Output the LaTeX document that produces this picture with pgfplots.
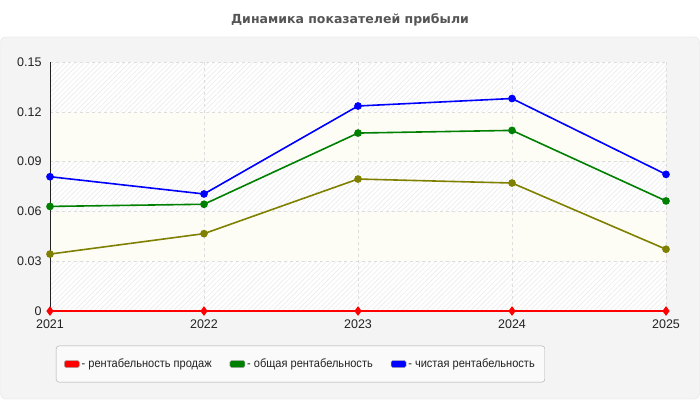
\documentclass[border=0pt]{standalone}
\usepackage{fontspec}
\setmainfont{Liberation Sans}
\newfontfamily\legendfont[FakeStretch=0.92]{Liberation Sans}
\newfontfamily\titlefont{DejaVu Sans}
\usepackage{pgfplots}
\pgfplotsset{compat=1.18}
\usetikzlibrary{patterns.meta}

\definecolor{panel}{HTML}{F4F4F4}
\definecolor{panelline}{HTML}{E2E2E2}
\definecolor{titlegray}{HTML}{555555}
\definecolor{gridgray}{HTML}{DDDDDD}
\definecolor{plainband}{HTML}{FDFDF6}
\definecolor{hatchline}{HTML}{ECECEC}
\definecolor{legfill}{HTML}{FAFAFA}
\definecolor{legline}{HTML}{A8A8A8}
\definecolor{textdark}{HTML}{222222}
\definecolor{sgreen}{HTML}{008000}
\definecolor{solive}{HTML}{808000}

\begin{document}
\begin{tikzpicture}
\fill[white] (0,0) rectangle (700pt,400pt);
\filldraw[fill=panel, draw=panelline, rounded corners=5pt] (0.5pt,1pt) rectangle (699.5pt,363pt);
\node[font=\titlefont\bfseries\fontsize{12.5}{15}\selectfont, text=titlegray] at (350pt,380pt) {Динамика показателей прибыли};

\begin{axis}[
  scale only axis,
  width=616pt, height=249pt,
  at={(50pt,89pt)}, anchor=south west,
  xmin=2021, xmax=2025, ymin=0, ymax=0.15,
  xtick={2021,2022,2023,2024,2025},
  xticklabels={2021,2022,2023,2024,2025},
  ytick={0,0.03,0.06,0.09,0.12,0.15},
  yticklabels={0,0.03,0.06,0.09,0.12,0.15},
  tick style={draw=none},
  ticklabel style={font=\fontsize{12.5}{14}\selectfont, text=textdark},
  xticklabel style={yshift=-5pt},
  yticklabel style={xshift=-5pt},
  grid=major,
  major grid style={dashed, draw=gridgray, line width=0.6pt},
  separate axis lines,
  axis x line*=bottom,
  axis y line*=left,
  x axis line style={draw=gridgray, -},
  y axis line style={draw=textdark, line width=0.8pt, -},
  clip=false,
  % alternating bands: hatched / plain
  axis background/.style={fill=plainband, path picture={
    \foreach \b in {0,99.6,199.2} {
      \fill[white] ([yshift=\b pt]path picture bounding box.south west) rectangle ++(616pt,49.8pt);
      \fill[pattern={Lines[angle=45,distance=3.5pt,line width=0.6pt]}, pattern color=hatchline]
        ([yshift=\b pt]path picture bounding box.south west) rectangle ++(616pt,49.8pt);
    }}},
  legend columns=3,
  legend cell align=left,
  legend style={at={(0.0097,-0.213)}, anchor=west,
    draw=legline, fill=legfill, rounded corners=3pt,
    font=\legendfont\fontsize{12}{14}\selectfont, text=textdark,
    inner xsep=8pt, inner ysep=11pt,
    /tikz/every odd column/.style={column sep=0pt},
    /tikz/every even column/.style={column sep=16pt}},
  legend image code/.code={\draw[rounded corners=1.5pt, fill, draw=black!35, line width=0.5pt] (0pt,-3.5pt) rectangle (15pt,3.5pt);},
]
\addplot[red, line width=1.6pt, mark=diamond*, mark size=3.5pt] coordinates {
  (2021,0) (2022,0) (2023,0) (2024,0) (2025,0)};
\addplot[sgreen, line width=1.6pt, mark=*, mark size=3pt] coordinates {
  (2021,0.0630) (2022,0.0643) (2023,0.1072) (2024,0.1088) (2025,0.0663)};
\addplot[blue, line width=1.6pt, mark=*, mark size=3pt] coordinates {
  (2021,0.0809) (2022,0.0705) (2023,0.1235) (2024,0.1280) (2025,0.0823)};
\addplot[solive, line width=1.6pt, mark=*, mark size=3pt, forget plot] coordinates {
  (2021,0.0343) (2022,0.0466) (2023,0.0795) (2024,0.0771) (2025,0.0372)};
\legend{- рентабельность продаж, - общая рентабельность, - чистая рентабельность}
\end{axis}
\end{tikzpicture}
\end{document}
